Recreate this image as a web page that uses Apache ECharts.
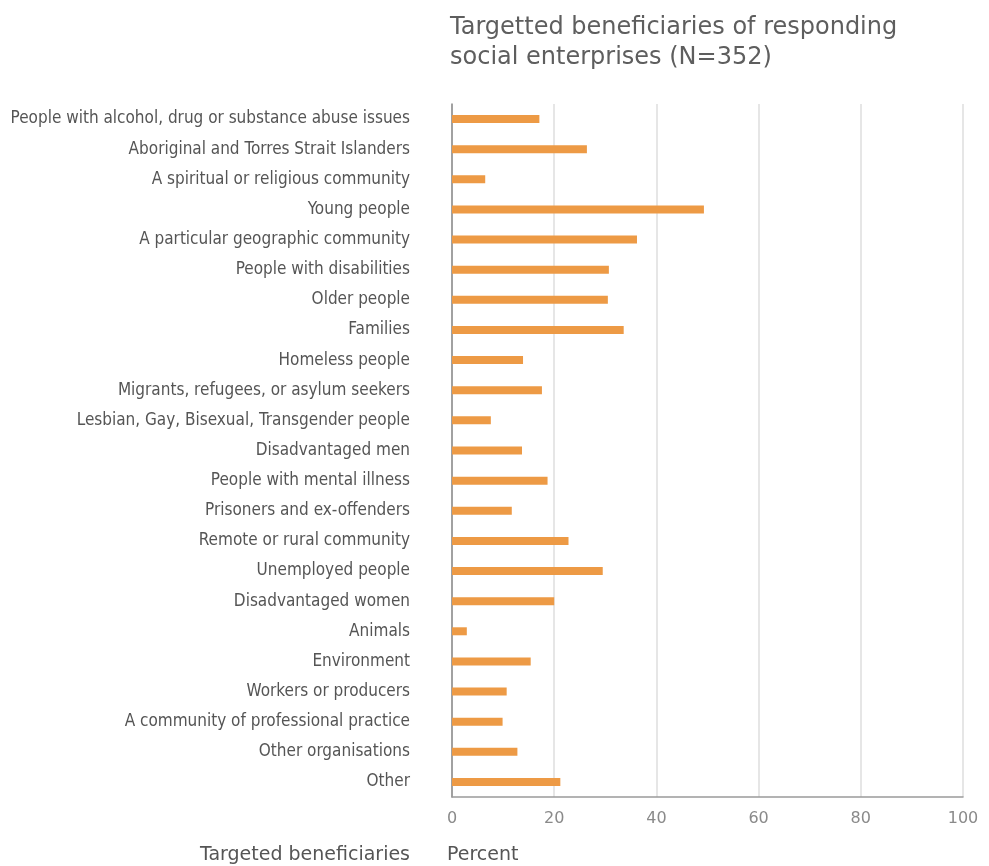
<!DOCTYPE html>
<html>
<head>
<meta charset="utf-8">
<script src="https://cdn.jsdelivr.net/npm/echarts@6/dist/echarts.min.js"></script>
<style>
  html, body { margin: 0; padding: 0; background: #fff; }
  #chart { width: 989px; height: 866px; }
</style>
</head>
<body>
<div id="chart"></div>
<script>
// Beneficiary groups, listed top to bottom
const categories = [
  'People with alcohol, drug or substance abuse issues',
  'Aboriginal and Torres Strait Islanders',
  'A spiritual or religious community',
  'Young people',
  'A particular geographic community',
  'People with disabilities',
  'Older people',
  'Families',
  'Homeless people',
  'Migrants, refugees, or asylum seekers',
  'Lesbian, Gay, Bisexual, Transgender people',
  'Disadvantaged men',
  'People with mental illness',
  'Prisoners and ex-offenders',
  'Remote or rural community',
  'Unemployed people',
  'Disadvantaged women',
  'Animals',
  'Environment',
  'Workers or producers',
  'A community of professional practice',
  'Other organisations',
  'Other'
];

// Share of responding social enterprises targeting each group (%)
const percentValues = [
  17.1, 26.4, 6.5, 49.3, 36.2, 30.7, 30.5, 33.6, 13.9, 17.6, 7.6, 13.7,
  18.7, 11.7, 22.8, 29.5, 20.0, 2.9, 15.4, 10.7, 9.9, 12.8, 21.2
];

const xTicks = [0, 20, 40, 60, 80, 100];

const wideFont = '"DejaVu Sans", Verdana, sans-serif';
const narrowFont = '"DejaVu Sans Condensed", "DejaVu Sans", sans-serif';

const chart = echarts.init(document.getElementById('chart'), null, { renderer: 'canvas' });

chart.setOption({
  backgroundColor: '#ffffff',
  animation: false,
  title: {
    text: 'Targetted beneficiaries of responding\nsocial enterprises (N=352)',
    left: 445,
    top: 8,
    textStyle: {
      fontFamily: wideFont,
      fontSize: 24,
      fontWeight: 'normal',
      color: '#5e5e5e',
      lineHeight: 30
    }
  },
  grid: {
    left: 452,
    right: 26,
    top: 104,
    bottom: 69,
    containLabel: false
  },
  xAxis: {
    type: 'value',
    min: xTicks[0],
    max: xTicks[xTicks.length - 1],
    interval: 20,
    axisLine: { show: true, lineStyle: { color: '#9a9a9a', width: 1.5 } },
    axisTick: { show: false },
    axisLabel: {
      color: '#8a8a8a',
      fontFamily: wideFont,
      fontSize: 16,
      margin: 14
    },
    splitLine: { show: true, lineStyle: { color: '#e6e6e6', width: 2 } }
  },
  yAxis: {
    type: 'category',
    data: categories,
    inverse: true,
    axisLine: { show: true, lineStyle: { color: '#8a8a8a', width: 1.5 } },
    axisTick: { show: false },
    axisLabel: {
      color: '#555555',
      fontFamily: narrowFont,
      fontSize: 17,
      margin: 42
    },
    splitLine: { show: false }
  },
  series: [{
    type: 'bar',
    data: percentValues,
    barWidth: 8,
    itemStyle: { color: '#ed9a45' },
    silent: true
  }],
  graphic: [
    {
      type: 'text',
      right: 579,
      top: 846,
      style: {
        text: 'Targeted beneficiaries',
        fill: '#555555',
        font: '19px "DejaVu Sans", Verdana, sans-serif',
        textAlign: 'right'
      }
    },
    {
      type: 'text',
      left: 447,
      top: 846,
      style: {
        text: 'Percent',
        fill: '#555555',
        font: '19px "DejaVu Sans", Verdana, sans-serif'
      }
    }
  ]
});
</script>
</body>
</html>
